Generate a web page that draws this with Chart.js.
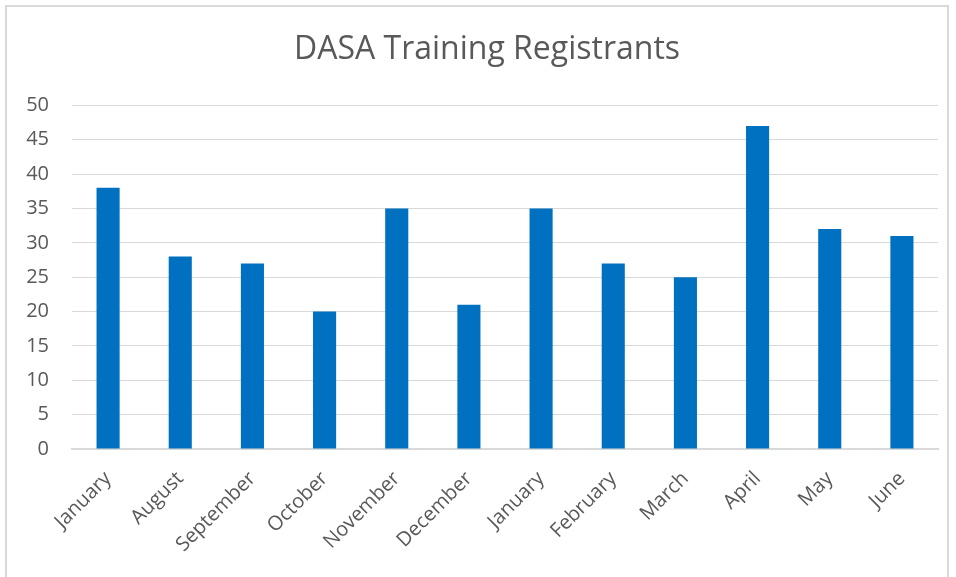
<!DOCTYPE html>
<html>
<head>
<meta charset="utf-8">
<script src="https://cdn.jsdelivr.net/npm/chart.js@4/dist/chart.umd.min.js"></script>
<style>
  body { margin: 0; background: #fff; }
  #wrap { position: relative; width: 956px; height: 577px; }
  #frame { position: absolute; left: 5px; top: 5px; width: 944px; height: 580px; border: 2px solid #d9d9d9; box-sizing: border-box; }
  canvas { position: absolute; left: 0; top: 0; }
</style>
</head>
<body>
<div id="wrap">
  <div id="frame"></div>
  <canvas id="myChart" width="956" height="577"></canvas>
</div>
<script>
const months = ['January', 'August', 'September', 'October', 'November', 'December',
  'January', 'February', 'March', 'April', 'May', 'June'];
const registrants = [38, 28, 27, 20, 35, 21, 35, 27, 25, 47, 32, 31];
const yMax = 50;
const yStep = 5;

const ctx = document.getElementById('myChart').getContext('2d');

// nudge the title box so its text is centred over the plot, not the canvas
const centerTitle = {
  id: 'centerTitle',
  afterLayout(chart) {
    const tb = chart.titleBlock;
    if (tb) { tb.left = 18; tb.right = 956; }
  }
};

const config = {
  type: 'bar',
  data: {
    labels: months,
    datasets: [{
      label: 'Registrants',
      data: registrants,
      backgroundColor: '#0070c0',
      barPercentage: 0.32,
      categoryPercentage: 1
    }]
  },
  options: {
    responsive: false,
    animation: false,
    layout: { padding: { left: 0, right: 18, top: 0, bottom: 0 } },
    plugins: {
      legend: { display: false },
      tooltip: { enabled: false },
      title: {
        display: true,
        text: 'DASA Training Registrants',
        color: '#595959',
        font: { family: 'Open Sans', size: 32, weight: 'normal' },
        padding: { top: 31, bottom: 36 }
      }
    },
    scales: {
      x: {
        grid: { display: false },
        border: { color: '#d9d9d9', width: 2 },
        ticks: {
          color: '#595959',
          font: { family: 'Open Sans', size: 20 },
          minRotation: 45,
          maxRotation: 45,
          padding: 10,
          autoSkip: false
        },
        afterFit: (scale) => { scale.height = 128; }
      },
      y: {
        min: 0,
        max: yMax,
        grid: { color: '#d9d9d9', lineWidth: 1, drawTicks: false },
        border: { display: false },
        ticks: {
          stepSize: yStep,
          color: '#595959',
          font: { family: 'Open Sans', size: 20 },
          padding: 23
        },
        afterFit: (scale) => { scale.width = 72; }
      }
    }
  },
  plugins: [centerTitle]
};

const myChart = new Chart(ctx, config);
</script>
</body>
</html>
